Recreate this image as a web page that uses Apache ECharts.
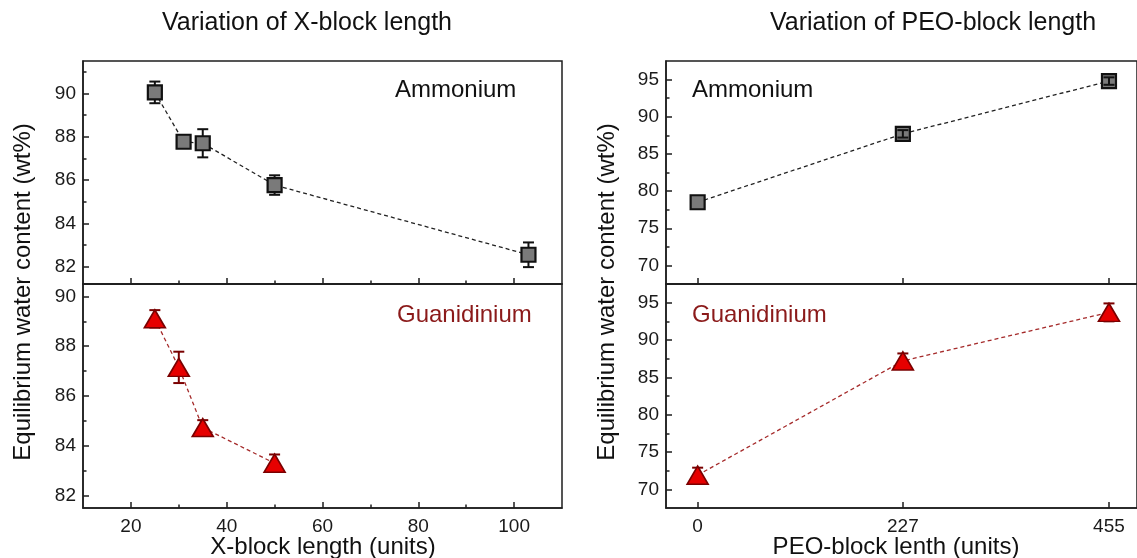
<!DOCTYPE html>
<html>
<head>
<meta charset="utf-8">
<script src="https://cdn.jsdelivr.net/npm/echarts@6/dist/echarts.min.js"></script>
<style>
  html, body { margin: 0; padding: 0; background: #fff; }
  #chart { width: 1137px; height: 558px; }
</style>
</head>
<body>
<div id="chart"></div>
<script>
// ---- data ----
const xBlockAmm = [25, 31, 35, 50, 103];
const ammVsX = [90.05, 87.77, 87.7, 85.77, 82.55];
const ammVsXErr = [0.5, 0.1, 0.65, 0.45, 0.57];

const xBlockGua = [25, 30, 35, 50];
const guaVsX = [89.1, 87.15, 84.73, 83.3];
const guaVsXErr = [0.35, 0.63, 0.3, 0.35];

const peoLen = [0, 227, 455];
const ammVsPeo = [78.5, 87.7, 94.8];
const ammVsPeoErr = [0, 0.5, 0.5];
const guaVsPeo = [71.9, 87.2, 93.7];
const guaVsPeoErr = [1.0, 1.0, 1.2];

const xTicksLeft = [20, 40, 60, 80, 100];
const xMinorLeft = [30, 50, 70, 90];
const yTicksLeftTop = [82, 84, 86, 88, 90];
const yMinorLeftTop = [83, 85, 87, 89, 91];
const yTicksLeftBot = [82, 84, 86, 88, 90];
const yMinorLeftBot = [83, 85, 87, 89];
const xTicksRight = [0, 227, 455];
const yTicksRight = [70, 75, 80, 85, 90, 95];
const yMinorRight = [72.5, 77.5, 82.5, 87.5, 92.5];

const font = '"Liberation Sans", Arial, sans-serif';
const axisColor = '#1e1e1e';
const labelColor = '#1a1a1a';
const darkRed = '#8b1a1a';

const grids = [
  { left: 83, top: 61, width: 479, height: 223 },   // left top
  { left: 83, top: 284, width: 479, height: 224 },  // left bottom
  { left: 666, top: 61, width: 472, height: 223 },  // right top
  { left: 666, top: 284, width: 472, height: 224 }  // right bottom
].map(g => ({ ...g, show: true, borderColor: axisColor, borderWidth: 1.5, backgroundColor: 'transparent' }));

const xAxes = [];
const yAxes = [];

function addAxes(list, dim, gridIndex, min, max, ticks, minor, showLabels) {
  const main = {
    type: 'value', gridIndex, min, max,
    position: dim === 'x' ? 'bottom' : 'left',
    axisLine: { show: true, onZero: false, lineStyle: { color: axisColor, width: 1.5 } },
    axisTick: { show: true, inside: true, length: 6, customValues: ticks, lineStyle: { color: axisColor, width: 1.5 } },
    axisLabel: {
      show: showLabels, customValues: ticks, color: labelColor, fontSize: 19, fontFamily: font,
      margin: dim === 'x' ? 9 : 7
    },
    splitLine: { show: false }
  };
  list.push(main);
  const idx = list.length - 1;
  if (minor && minor.length) {
    list.push({
      type: 'value', gridIndex, min, max,
      position: dim === 'x' ? 'bottom' : 'left',
      axisLine: { show: false, onZero: false },
      axisTick: { show: true, inside: true, length: 3.5, customValues: minor, lineStyle: { color: axisColor, width: 1.5 } },
      axisLabel: { show: false },
      splitLine: { show: false }
    });
  }
  return idx;
}

const ax = [
  { x: addAxes(xAxes, 'x', 0, 10, 110, xTicksLeft, xMinorLeft, false), y: addAxes(yAxes, 'y', 0, 81.2, 91.5, yTicksLeftTop, yMinorLeftTop, true) },
  { x: addAxes(xAxes, 'x', 1, 10, 110, xTicksLeft, xMinorLeft, true), y: addAxes(yAxes, 'y', 1, 81.5, 90.5, yTicksLeftBot, yMinorLeftBot, true) },
  { x: addAxes(xAxes, 'x', 2, -35, 486, xTicksRight, null, false), y: addAxes(yAxes, 'y', 2, 67.5, 97.5, yTicksRight, yMinorRight, true) },
  { x: addAxes(xAxes, 'x', 3, -35, 486, xTicksRight, null, true), y: addAxes(yAxes, 'y', 3, 67.5, 97.5, yTicksRight, yMinorRight, true) }
];

function pairs(xs, ys) { return xs.map((x, i) => [x, ys[i]]); }
function errRows(xs, ys, es) { return xs.map((x, i) => [x, ys[i] - es[i], ys[i] + es[i]]); }

function errorSeries(panel, xs, ys, es, color, z) {
  return {
    type: 'custom', xAxisIndex: ax[panel].x, yAxisIndex: ax[panel].y, z, silent: true,
    data: errRows(xs, ys, es),
    renderItem: (params, api) => {
      if (api.value(2) - api.value(1) <= 0) return null;
      const lo = api.coord([api.value(0), api.value(1)]);
      const hi = api.coord([api.value(0), api.value(2)]);
      const cap = 5.5;
      const style = { stroke: color, lineWidth: 2 };
      return {
        type: 'group',
        children: [
          { type: 'line', shape: { x1: lo[0], y1: lo[1], x2: hi[0], y2: hi[1] }, style },
          { type: 'line', shape: { x1: lo[0] - cap, y1: lo[1], x2: lo[0] + cap, y2: lo[1] }, style },
          { type: 'line', shape: { x1: hi[0] - cap, y1: hi[1], x2: hi[0] + cap, y2: hi[1] }, style }
        ]
      };
    }
  };
}

function ammLine(panel, xs, ys) {
  return {
    type: 'line', xAxisIndex: ax[panel].x, yAxisIndex: ax[panel].y, z: 2,
    data: pairs(xs, ys),
    symbol: 'rect', symbolSize: 14,
    itemStyle: { color: '#7a7a7a', borderColor: '#111', borderWidth: 2.2 },
    lineStyle: { color: '#222', width: 1.3, type: [4, 3] }
  };
}

function guaLine(panel, xs, ys) {
  return {
    type: 'line', xAxisIndex: ax[panel].x, yAxisIndex: ax[panel].y, z: 2,
    data: pairs(xs, ys),
    symbol: 'triangle', symbolSize: [21, 18],
    itemStyle: { color: '#e60000', borderColor: '#7a0000', borderWidth: 1.6 },
    lineStyle: { color: '#a52a2a', width: 1.3, type: [4, 3] }
  };
}

const series = [
  errorSeries(0, xBlockAmm, ammVsX, ammVsXErr, '#111', 1),
  ammLine(0, xBlockAmm, ammVsX),
  errorSeries(1, xBlockGua, guaVsX, guaVsXErr, '#7a0000', 1),
  guaLine(1, xBlockGua, guaVsX),
  errorSeries(2, peoLen, ammVsPeo, ammVsPeoErr, '#111', 3),
  ammLine(2, peoLen, ammVsPeo),
  errorSeries(3, peoLen, guaVsPeo, guaVsPeoErr, '#7a0000', 1),
  guaLine(3, peoLen, guaVsPeo)
];

function txt(text, x, y, size, color, opts) {
  return {
    type: 'text', x, y, z: 10, silent: true,
    rotation: (opts && opts.rotation) || 0,
    style: {
      text, fill: color, font: size + 'px ' + font,
      align: (opts && opts.align) || 'center', verticalAlign: 'middle'
    }
  };
}

const graphic = [
  txt('Variation of X-block length', 307, 23, 25, '#111'),
  txt('Variation of PEO-block length', 933, 23, 25, '#111'),
  txt('Ammonium', 395, 90, 24, '#111', { align: 'left' }),
  txt('Guanidinium', 397, 315, 24, darkRed, { align: 'left' }),
  txt('Ammonium', 692, 90, 24, '#111', { align: 'left' }),
  txt('Guanidinium', 692, 315, 24, darkRed, { align: 'left' }),
  txt('Equilibrium water content (wt%)', 23, 292, 24, '#111', { rotation: Math.PI / 2 }),
  txt('Equilibrium water content (wt%)', 607, 292, 24, '#111', { rotation: Math.PI / 2 }),
  txt('X-block length (units)', 323, 547, 24, '#111'),
  txt('PEO-block lenth (units)', 896, 547, 24, '#111')
];

const chart = echarts.init(document.getElementById('chart'));
chart.setOption({
  animation: false,
  backgroundColor: '#fff',
  grid: grids,
  xAxis: xAxes,
  yAxis: yAxes,
  series,
  graphic
});
</script>
</body>
</html>
